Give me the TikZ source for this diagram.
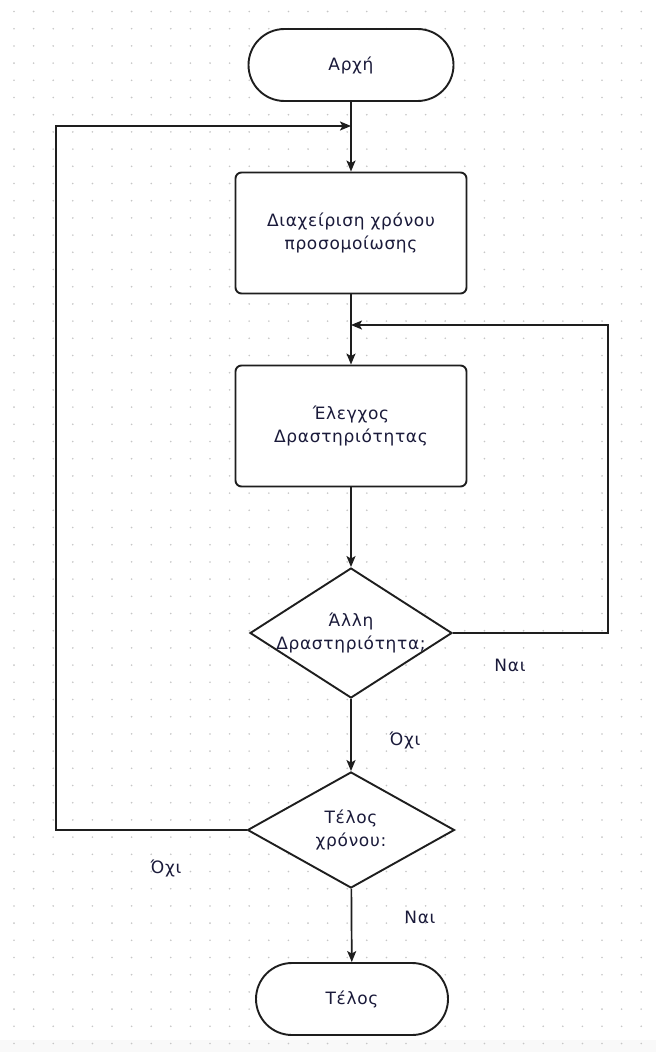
\documentclass[tikz,border=0pt]{standalone}
\usepackage{fontspec}
\setmainfont[LetterSpace=4]{DejaVu Sans}
\usetikzlibrary{shapes.geometric,shapes.misc,arrows.meta}
\definecolor{txt}{HTML}{1A1A3A}
\definecolor{ln}{HTML}{1E1E1E}
\tikzset{
  base/.style={draw=ln, line width=1.9pt, fill=white, text=txt, align=center, inner sep=0pt,
    font=\fontsize{17}{23}\selectfont},
  term/.style={base, rounded rectangle, minimum width=205pt, minimum height=72pt},
  proc/.style={base, rectangle, rounded corners=6pt, minimum width=231pt, minimum height=121pt},
  dec/.style={base, diamond},
  intext/.style={text=txt, align=center, inner sep=0pt, font=\fontsize{17}{23}\selectfont},
  lbl/.style={text=txt, inner sep=0pt, font=\fontsize{17}{23}\selectfont},
  arr/.style={draw=ln, line width=1.7pt, -{Stealth[length=11pt,width=9pt,inset=2.5pt]}},
  con/.style={draw=ln, line width=1.7pt}
}
\begin{document}
\begin{tikzpicture}[x=1pt,y=-1pt]
\useasboundingbox (0,0) rectangle (656,1052);
\fill[white] (0,0) rectangle (656,1052);
\fill[gray!5] (0,1040) rectangle (656,1052);
\foreach \i in {0,...,33} {
  \foreach \j in {0,...,60} {
    \fill[gray!45] (14+\i*19.6, 11.5+\j*17.2) circle (0.9pt);
  }
}
\node[term] (start) at (351,65) {Αρχή};
\node[proc] (p1) at (351,233) {Διαχείριση χρόνου\\προσομοίωσης};
\node[proc] (p2) at (351,426) {Έλεγχος\\Δραστηριότητας};
\node[dec, minimum width=202pt, minimum height=130pt,
  label={[intext, name=d1t]center:{Άλλη\\Δραστηριότητα;}}] (d1) at (351,633) {};
\node[dec, minimum width=207pt, minimum height=116pt,
  label={[intext, name=d2t]center:{Τέλος\\χρόνου:}}] (d2) at (351,830) {};
\node[term, minimum width=192pt] (end) at (352,999) {Τέλος};

\coordinate (j1) at (351,126);
\coordinate (j2) at (351,325);

\draw[arr] (start) -- (p1);
\draw[arr] (p1) -- (p2);
\draw[arr] (p2) -- (d1);
\draw[arr] (d1) -- (d2);
\draw[arr] (d2) -- (end);
\draw[arr] (d1.east) -- (608,633) |- (j2);
\draw[arr] (d2.west) -- (56,830) |- (j1);

\node[lbl] (l1) at (510,665) {Ναι};
\node[lbl] (l2) at (405,740) {Όχι};
\node[lbl] (l3) at (166,868) {Όχι};
\node[lbl] (l4) at (420,917) {Ναι};
\end{tikzpicture}
\end{document}
